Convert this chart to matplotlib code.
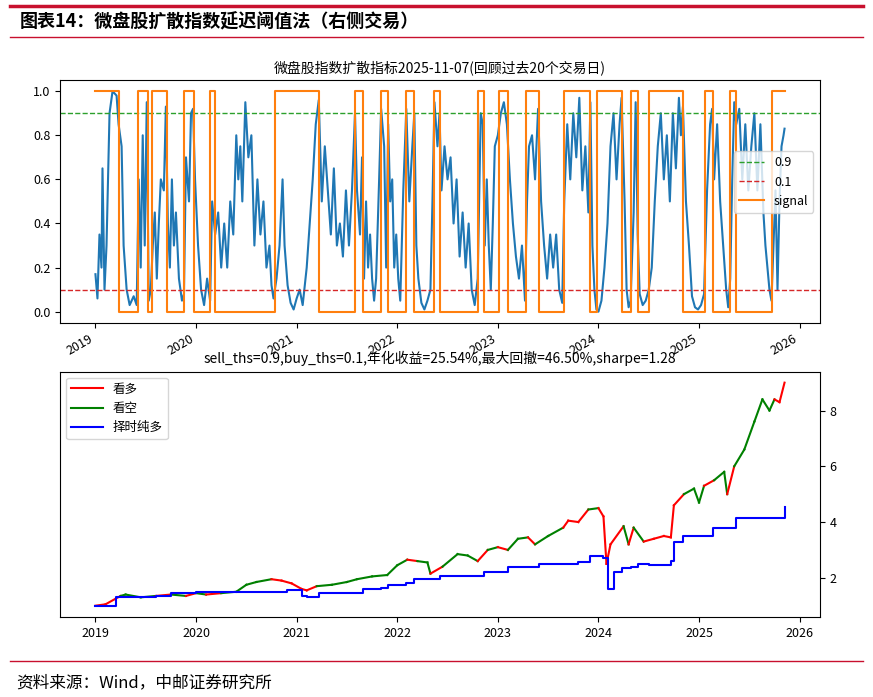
import matplotlib
matplotlib.use("Agg")
import matplotlib.pyplot as plt
import numpy as np
import pandas as pd

plt.rcParams['font.family'] = ['Noto Sans CJK SC', 'DejaVu Sans']
plt.rcParams['axes.unicode_minus'] = False

# diffusion index, (fractional year, value)
IDX_T = [2019.00, 2019.02, 2019.04, 2019.06, 2019.07, 2019.09, 2019.11, 2019.14, 2019.17, 2019.21, 2019.23, 2019.26, 2019.28, 2019.31, 2019.34, 2019.38, 2019.41, 2019.43, 2019.45, 2019.47, 2019.49, 2019.51, 2019.53, 2019.55, 2019.57, 2019.59, 2019.61, 2019.63, 2019.65, 2019.68, 2019.70, 2019.72, 2019.74, 2019.76, 2019.78, 2019.80, 2019.83, 2019.86, 2019.88, 2019.90, 2019.93, 2019.95, 2019.97, 2019.99,
         2020.02, 2020.05, 2020.08, 2020.11, 2020.14, 2020.16, 2020.19, 2020.22, 2020.25, 2020.28, 2020.31, 2020.34, 2020.37, 2020.40, 2020.42, 2020.44, 2020.46, 2020.49, 2020.52, 2020.55, 2020.58, 2020.61, 2020.64, 2020.67, 2020.70, 2020.73, 2020.75, 2020.77, 2020.80, 2020.83, 2020.86, 2020.88, 2020.91, 2020.94, 2020.97,
         2021.00, 2021.03, 2021.06, 2021.10, 2021.13, 2021.16, 2021.19, 2021.22, 2021.25, 2021.28, 2021.31, 2021.34, 2021.37, 2021.40, 2021.43, 2021.46, 2021.49, 2021.52, 2021.55, 2021.58, 2021.60, 2021.63, 2021.65, 2021.67, 2021.69, 2021.71, 2021.73, 2021.75, 2021.77, 2021.79, 2021.82, 2021.84, 2021.87, 2021.89, 2021.91, 2021.93, 2021.95, 2021.97, 2021.99,
         2022.01, 2022.03, 2022.06, 2022.09, 2022.12, 2022.15, 2022.17, 2022.19, 2022.21, 2022.24, 2022.27, 2022.30, 2022.33, 2022.35, 2022.37, 2022.40, 2022.42, 2022.44, 2022.47, 2022.50, 2022.53, 2022.56, 2022.59, 2022.62, 2022.65, 2022.68, 2022.71, 2022.74, 2022.77, 2022.80, 2022.83, 2022.85, 2022.87, 2022.89, 2022.91, 2022.93, 2022.95, 2022.97,
         2023.00, 2023.03, 2023.06, 2023.09, 2023.12, 2023.15, 2023.18, 2023.21, 2023.24, 2023.27, 2023.29, 2023.31, 2023.34, 2023.37, 2023.40, 2023.43, 2023.46, 2023.49, 2023.52, 2023.55, 2023.58, 2023.61, 2023.64, 2023.66, 2023.69, 2023.72, 2023.75, 2023.78, 2023.81, 2023.84, 2023.87, 2023.90, 2023.92, 2023.94, 2023.96, 2023.98,
         2024.00, 2024.03, 2024.06, 2024.09, 2024.12, 2024.15, 2024.18, 2024.21, 2024.23, 2024.26, 2024.28, 2024.30, 2024.32, 2024.35, 2024.37, 2024.39, 2024.41, 2024.44, 2024.47, 2024.50, 2024.53, 2024.56, 2024.59, 2024.62, 2024.65, 2024.68, 2024.71, 2024.74, 2024.77, 2024.80, 2024.82, 2024.84, 2024.87, 2024.90, 2024.93, 2024.96, 2024.99,
         2025.02, 2025.05, 2025.08, 2025.11, 2025.13, 2025.15, 2025.18, 2025.21, 2025.24, 2025.27, 2025.29, 2025.31, 2025.33, 2025.35, 2025.37, 2025.40, 2025.43, 2025.46, 2025.49, 2025.52, 2025.55, 2025.58, 2025.61, 2025.64, 2025.66, 2025.68, 2025.70, 2025.72, 2025.74, 2025.76, 2025.78, 2025.80, 2025.82, 2025.84, 2025.85]
IDX_V = [.17, .06, .35, .2, .65, .1, .3, .9, 1.0, .98, .85, .75, .3, .1, .03, .07, .03, .6, .2, .8, .3, .95, .05, .1, .3, .45, .15, .4, .6, .55, .93, .4, .2, .6, .3, .45, .15, .05, .08, .7, .5, .9, .92, .6,
         .3, .1, .03, .15, .05, .5, .35, .45, .2, .4, .2, .5, .35, .8, .6, .75, .5, .95, .7, .8, .3, .6, .35, .5, .2, .3, .12, .06, .15, .3, .6, .3, .12, .04, .01,
         .06, .1, .03, .2, .4, .6, .85, .96, .5, .75, .55, .35, .65, .3, .4, .25, .55, .3, .55, .9, .55, .35, .7, .15, .5, .2, .35, .15, .05, .15, .6, .92, .75, .2, .85, .5, .6, .2, .35,
         .15, .05, .55, .92, .5, .75, .9, .3, .15, .04, .01, .05, .1, .5, .95, .75, .9, .55, .75, .6, .7, .4, .6, .25, .45, .2, .4, .1, .03, .15, .9, .85, .3, .6, .3, .1, .4, .75,
         .8, .9, .95, .85, .6, .4, .25, .15, .3, .05, .5, .75, .8, .6, .92, .5, .3, .15, .35, .2, .35, .1, .04, .5, .85, .6, .9, .7, .97, .55, .75, .45, .95, .3, .1, .01,
         .0, .05, .2, .4, .75, .9, .6, .85, .97, .5, .1, .02, .05, .45, .95, .35, .08, .03, .05, .1, .2, .5, .75, .9, .6, .8, .5, .9, .65, .97, .8, .93, .5, .3, .07, .02, .01,
         .03, .08, .55, .85, .92, .6, .85, .5, .3, .1, .02, .15, .6, .95, .85, .92, .6, .85, .55, .75, .9, .55, .85, .45, .3, .2, .1, .05, .3, .55, .1, .5, .75, .8, .83]

# signal switch times (fractional year), starts at 1
SIG_SWITCH = [2019.23, 2019.42, 2019.52, 2019.56, 2019.71, 2019.88, 2019.98, 2020.14, 2020.19, 2020.78,
              2021.22, 2021.58, 2021.66, 2021.84, 2021.91, 2022.09, 2022.17, 2022.37, 2022.43, 2022.80,
              2022.86, 2023.01, 2023.10, 2023.28, 2023.41, 2023.66, 2023.92, 2023.99, 2024.23, 2024.32,
              2024.39, 2024.50, 2024.84, 2025.06, 2025.14, 2025.31, 2025.37, 2025.73]
SIG_END = 2025.85

# strategy NAVs
LS_T = [2019.0, 2019.1, 2019.25, 2019.3, 2019.45, 2019.6, 2019.75, 2019.9, 2020.0, 2020.1, 2020.25, 2020.4, 2020.5, 2020.6, 2020.75, 2020.85, 2020.95,
        2021.05, 2021.1, 2021.2, 2021.35, 2021.5, 2021.6, 2021.75, 2021.9, 2022.0, 2022.1, 2022.2, 2022.3, 2022.33, 2022.45, 2022.6, 2022.7, 2022.8, 2022.9,
        2023.0, 2023.1, 2023.2, 2023.3, 2023.37, 2023.5, 2023.65, 2023.7, 2023.8, 2023.9, 2024.0, 2024.05, 2024.08, 2024.12, 2024.25, 2024.3, 2024.35,
        2024.45, 2024.55, 2024.65, 2024.72, 2024.75, 2024.85, 2024.95, 2025.0, 2025.05, 2025.15, 2025.25, 2025.28, 2025.35, 2025.45, 2025.55, 2025.63,
        2025.7, 2025.75, 2025.8, 2025.85]
LS_V = [1.0, 1.05, 1.35, 1.4, 1.3, 1.35, 1.4, 1.35, 1.45, 1.4, 1.45, 1.5, 1.75, 1.85, 1.95, 1.9, 1.8,
        1.6, 1.55, 1.7, 1.75, 1.85, 1.95, 2.05, 2.1, 2.45, 2.65, 2.6, 2.55, 2.15, 2.4, 2.85, 2.8, 2.6, 3.0,
        3.1, 3.0, 3.4, 3.45, 3.2, 3.5, 3.8, 4.05, 4.0, 4.45, 4.5, 4.2, 2.5, 3.2, 3.85, 3.2, 3.8,
        3.3, 3.4, 3.5, 3.45, 4.6, 5.0, 5.2, 4.7, 5.3, 5.5, 5.8, 5.0, 6.0, 6.6, 7.6, 8.4,
        8.0, 8.4, 8.3, 9.0]
LO_T = [2019.0, 2019.1, 2019.2, 2019.45, 2019.6, 2019.75, 2020.0, 2020.78, 2020.9, 2021.05, 2021.1, 2021.22, 2021.58, 2021.66, 2021.84, 2021.91,
        2022.09, 2022.17, 2022.37, 2022.43, 2022.8, 2022.86, 2023.01, 2023.1, 2023.28, 2023.41, 2023.66, 2023.8, 2023.92, 2024.0, 2024.05, 2024.1,
        2024.15, 2024.23, 2024.32, 2024.39, 2024.5, 2024.72, 2024.75, 2024.84, 2025.06, 2025.14, 2025.31, 2025.37, 2025.73, 2025.85]
LO_V = [1.0, 1.0, 1.3, 1.3, 1.35, 1.45, 1.5, 1.5, 1.55, 1.35, 1.3, 1.45, 1.45, 1.6, 1.65, 1.75,
        1.8, 1.95, 1.95, 2.05, 2.05, 2.2, 2.2, 2.4, 2.4, 2.5, 2.5, 2.55, 2.8, 2.8, 2.7, 1.6,
        2.2, 2.35, 2.4, 2.5, 2.45, 2.6, 3.3, 3.5, 3.5, 3.8, 3.8, 4.15, 4.15, 4.55]


def to_date(years):
    base = pd.Timestamp('2019-01-01')
    return [base + pd.Timedelta(days=(y - 2019) * 365.25) for y in years]


def signal_at(y):
    return 1 - (np.searchsorted(SIG_SWITCH, y, side='right') % 2)


fig = plt.figure(figsize=(8.73, 6.97), dpi=100)

# header / footer
fig.add_artist(plt.Line2D([0.012, 0.988], [0.992, 0.992], color='#c8102e', lw=2.5))
fig.add_artist(plt.Line2D([0.012, 0.988], [0.947, 0.947], color='#c8102e', lw=1))
fig.text(0.022, 0.968, '图表14：微盘股扩散指数延迟阈值法（右侧交易）', fontsize=13, fontweight='bold', va='center')
fig.add_artist(plt.Line2D([0.012, 0.988], [0.052, 0.052], color='#c8102e', lw=1))
fig.text(0.018, 0.020, '资料来源：Wind，中邮证券研究所', fontsize=12, va='center')

# top panel
ax1 = fig.add_axes([0.069, 0.537, 0.870, 0.348])
ax1.plot(to_date(IDX_T), IDX_V, color='#1f77b4', lw=1.5)
ax1.axhline(0.9, color='#2ca02c', ls='--', lw=1, label='0.9')
ax1.axhline(0.1, color='#d62728', ls='--', lw=1, label='0.1')
sig_t = [2019.0] + SIG_SWITCH + [SIG_END]
sig_v = [1 - (i % 2) for i in range(len(SIG_SWITCH) + 1)]
sig_v = sig_v + [sig_v[-1]]
ax1.step(to_date(sig_t), sig_v, where='post', color='#ff7f0e', lw=1.5, label='signal')
ax1.set_xlim(to_date([2018.65, 2026.2]))
ax1.set_ylim(-0.05, 1.05)
ax1.set_title('微盘股指数扩散指标2025-11-07(回顾过去20个交易日)', fontsize=10)
ax1.legend(loc='center right', bbox_to_anchor=(1.0, 0.58), fontsize=9)
ax1.set_xticks(to_date(range(2019, 2027)))
ax1.set_xticklabels([str(y) for y in range(2019, 2027)], rotation=30, ha='right', fontsize=9)
ax1.tick_params(labelsize=9)

# bottom panel
ax2 = fig.add_axes([0.069, 0.115, 0.870, 0.352])
ls_d = to_date(LS_T)
for i in range(len(LS_T) - 1):
    mid = 0.5 * (LS_T[i] + LS_T[i + 1])
    c = 'red' if signal_at(mid) == 1 else 'green'
    ax2.plot(ls_d[i:i + 2], LS_V[i:i + 2], color=c, lw=1.5)
ax2.plot([], [], color='red', lw=1.5, label='看多')
ax2.plot([], [], color='green', lw=1.5, label='看空')
ax2.step(to_date(LO_T), LO_V, where='post', color='blue', lw=1.5, label='择时纯多')
ax2.set_xlim(to_date([2018.65, 2026.2]))
ax2.set_ylim(0.6, 9.4)
ax2.yaxis.tick_right()
ax2.set_yticks([2, 4, 6, 8])
ax2.set_xticks(to_date(range(2019, 2027)))
ax2.set_xticklabels([str(y) for y in range(2019, 2027)], fontsize=9)
ax2.tick_params(labelsize=9)
ax2.set_title('sell_ths=0.9,buy_ths=0.1,年化收益=25.54%,最大回撤=46.50%,sharpe=1.28', fontsize=10)
ax2.legend(loc='upper left', fontsize=9, handlelength=2.5)

fig.savefig('out.png', dpi=100)
